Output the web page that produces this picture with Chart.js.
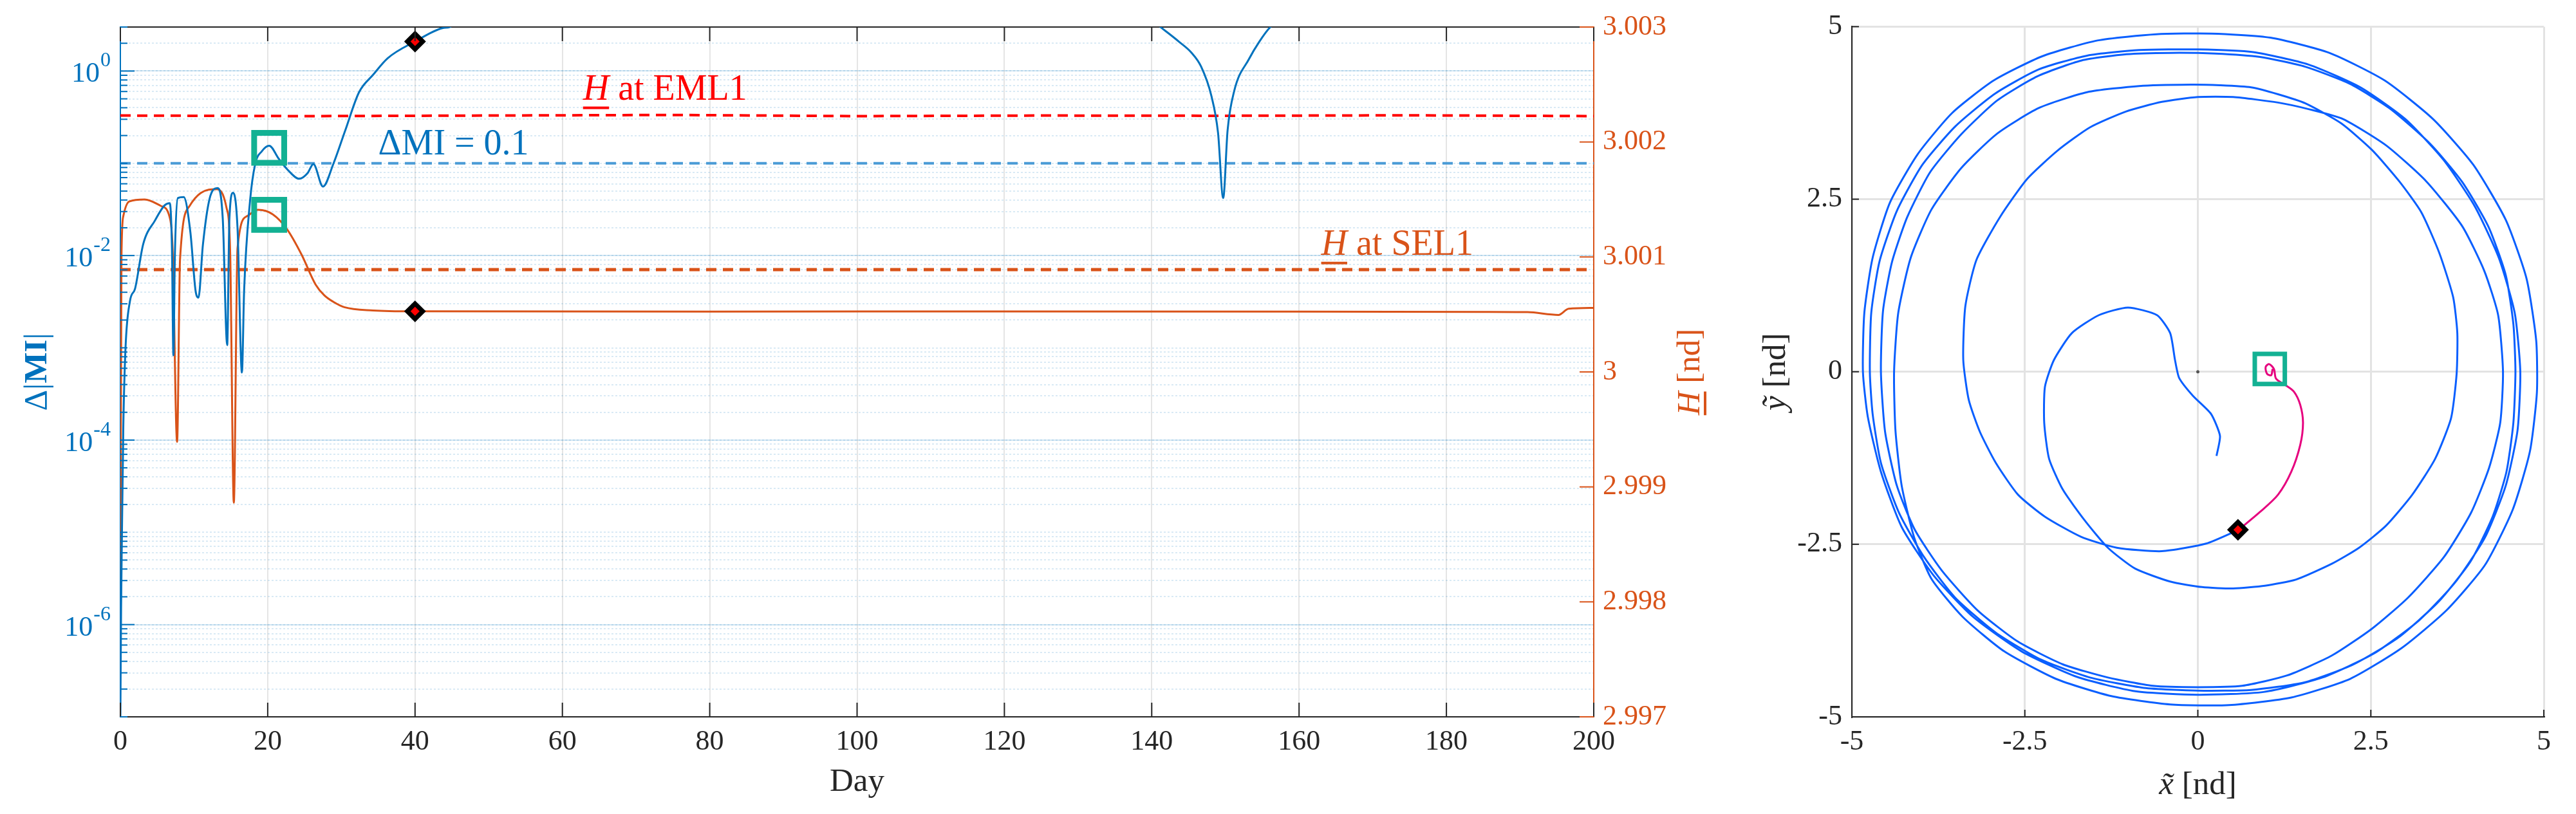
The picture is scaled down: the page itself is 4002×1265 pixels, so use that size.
<!DOCTYPE html>
<html>
<head>
<meta charset="utf-8">
<script src="https://cdn.jsdelivr.net/npm/chart.js@4.4.1/dist/chart.umd.min.js"></script>
<style>
  html, body { margin: 0; padding: 0; background: #fff; }
  #wrap { position: relative; width: 4002px; height: 1265px; }
  canvas { position: absolute; top: 0; }
  #left { left: 0; }
  #right { left: 2700px; }
</style>
</head>
<body>
<div id="wrap">
  <canvas id="left" width="2700" height="1265"></canvas>
  <canvas id="right" width="1302" height="1265"></canvas>
</div>
<script>
const SERIF = "'Liberation Serif', 'Times New Roman', serif";
const BLUE = '#0072BD', ORANGE = '#D95319', DARK = '#262626', TEAL = '#13B193';
const TRAJ = '#0a5fff', MAG = '#e6007e';

// ---------- left panel: ΔMI and H over time ----------
const dayTicks = [0, 20, 40, 60, 80, 100, 120, 140, 160, 180, 200];
const hTicks = [2.997, 2.998, 2.999, 3, 3.001, 3.002, 3.003];
const hLabels = ['2.997', '2.998', '2.999', '3', '3.001', '3.002', '3.003'];
const miLabelExp = [0, -2, -4, -6];

const miDays = [0, 0.1, 0.2, 0.4, 0.7, 1.3, 2.0, 3.1, 4.7, 6.0, 6.7, 7.0, 7.2, 7.4, 7.8, 8.6, 9.5, 10.2, 10.6, 11.2,
  12.1, 13.2, 13.9, 14.5, 14.8, 15.3, 15.9, 16.5, 16.8, 17.6, 18.3, 19.2, 20.2, 21.5, 22.6, 24.3, 25.4, 26.2, 27.5,
  28.9, 30.5, 32.4, 34.3, 36.3, 40, 43.7, 44.7, 46, 100, 140, 141.2, 143.7, 145.4, 146.7, 148.1, 149.0, 149.7,
  150.3, 151.2, 153.2, 154.6, 156.1, 157.5];
const miVals = [1e-7, 1.5e-6, 8e-6, 1.4e-4, 1e-3, 3.2e-3, 4.4e-3, 1.33e-2, 2.4e-2, 3.5e-2, 3.7e-2, 1.2e-2, 8.3e-4,
  1e-2, 4.2e-2, 4.3e-2, 1.8e-2, 4.2e-3, 3.5e-3, 1.3e-2, 4.1e-2, 5.4e-2, 2.5e-2, 1.07e-3, 2.5e-2, 4.8e-2, 2e-2,
  5.4e-4, 4.2e-3, 3.9e-2, 9.8e-2, 0.135, 0.155, 0.112, 0.087, 0.068, 0.078, 0.098, 0.056, 0.098, 0.224, 0.59,
  0.91, 1.38, 2.09, 2.92, 3.0, 3.6, null, 3.6, 3.0, 2.08, 1.58, 1.12, 0.537, 0.214, 0.042, 0.229, 0.61, 1.35,
  2.08, 3.0, 3.6];

const hDays = [0, 0.15, 0.4, 1.2, 3.3, 5.5, 6.65, 7.1, 7.7, 8.1, 9.4, 10.9, 13.1, 14.4, 14.9, 15.4, 15.9, 17.2,
  18.7, 20.7, 22.6, 24.6, 26.5, 27.7, 28.9, 30.4, 34.3, 40, 80, 120, 160, 185, 191, 195.2, 196.6, 200];
const hVals = [2.99798, 3.0010, 3.001355, 3.001483, 3.0015, 3.001444, 3.001355, 3.00105, 2.999392, 3.00098,
  3.001444, 3.001556, 3.00159, 3.00143, 3.00105, 2.998862, 3.001076, 3.001355, 3.00141, 3.00137, 3.001243,
  3.00102, 3.00076, 3.000665, 3.00061, 3.000563, 3.000535, 3.000527, 3.000525, 3.000526, 3.000525, 3.000522,
  3.00052, 3.000496, 3.00055, 3.000557];

const emlDays = [0, 25, 50, 75, 100, 125, 150, 175, 200];
const emlVals = [3.00223, 3.002225, 3.00223, 3.002235, 3.002225, 3.00223, 3.002228, 3.002232, 3.002225];
const selVal = 3.00089;
const miLimit = 0.1;

const markDay = 40, markMI = 2.09, markH = 3.000527;
const boxDay = 20.2, boxMI = 0.147, boxH = 3.001366;

// text anchors (day, value on its axis)
const emlLabelAt = [62.8, 3.00237];
const selLabelAt = [163.0, 3.00102];
const miLabelAt = [35.0, 0.125];

// log grid: 1..9 x 10^k
const miGrid = [];
for (let e = -7; e <= 0; e++) {
  for (let m = 1; m <= 9; m++) {
    const v = m * Math.pow(10, e);
    if (v <= 3.0001) miGrid.push(v);
  }
}

const pts = (xs, ys) => xs.map((x, i) => ({ x: x, y: ys[i] }));

function drawPieces(ctx, pieces, x0, y0, color, underline) {
  // pieces: [text, font]; drawn left to right from x0
  let x = x0;
  const widths = [];
  ctx.fillStyle = color;
  pieces.forEach(([t, f]) => {
    ctx.font = f;
    const w = ctx.measureText(t).width;
    ctx.fillText(t, x, y0);
    widths.push([x, w]);
    x += w;
  });
  if (underline) {
    const [ux, uw] = widths[0];
    ctx.fillRect(ux, y0 + underline, uw, 4);
  }
  return x - x0;
}

const leftDecor = {
  id: 'leftDecor',
  afterDraw(chart) {
    const { ctx, chartArea: a, scales } = chart;
    const x = scales.x, y = scales.y, yR = scales.yR;
    const seg = (x1, y1, x2, y2) => { ctx.beginPath(); ctx.moveTo(x1, y1); ctx.lineTo(x2, y2); ctx.stroke(); };
    ctx.save();

    // inward tick marks
    ctx.lineWidth = 2;
    ctx.strokeStyle = DARK;
    dayTicks.forEach(d => {
      const p = x.getPixelForValue(d);
      seg(p, a.bottom, p, a.bottom - 22);
      seg(p, a.top, p, a.top + 22);
    });
    ctx.strokeStyle = BLUE;
    miGrid.forEach(v => {
      const p = y.getPixelForValue(v);
      const major = miLabelExp.some(e => Math.abs(Math.log10(v) - e) < 1e-6);
      seg(a.left, p, a.left + (major ? 22 : 11), p);
    });
    ctx.strokeStyle = ORANGE;
    hTicks.forEach(v => {
      const p = yR.getPixelForValue(v);
      seg(a.right, p, a.right - 22, p);
    });

    // 10^k labels
    ctx.fillStyle = BLUE;
    ctx.textAlign = 'right';
    ctx.textBaseline = 'alphabetic';
    miLabelExp.forEach(e => {
      const p = y.getPixelForValue(Math.pow(10, e));
      const right = a.left - 15;
      ctx.font = '32px ' + SERIF;
      const sup = String(e);
      const w = ctx.measureText(sup).width;
      ctx.fillText(sup, right, p - 7);
      ctx.font = '44px ' + SERIF;
      ctx.fillText('10', right - w - 1, p + 17);
    });

    // line labels
    ctx.textAlign = 'left';
    const it = 'italic 56px ' + SERIF, rm = '56px ' + SERIF;
    drawPieces(ctx, [['H', it], [' at EML1', rm]],
      x.getPixelForValue(emlLabelAt[0]), yR.getPixelForValue(emlLabelAt[1]), '#ff0000', 11);
    drawPieces(ctx, [['H', it], [' at SEL1', rm]],
      x.getPixelForValue(selLabelAt[0]), yR.getPixelForValue(selLabelAt[1]), ORANGE, 11);
    drawPieces(ctx, [['\u0394MI = 0.1', rm]],
      x.getPixelForValue(miLabelAt[0]), y.getPixelForValue(miLabelAt[1]), BLUE, 0);

    // axis titles (rotated, bottom to top)
    const mid = (a.top + a.bottom) / 2;
    const leftParts = [['\u0394|', '51px ' + SERIF], ['MI', 'bold 51px ' + SERIF], ['|', '51px ' + SERIF]];
    ctx.save();
    ctx.translate(72, mid);
    ctx.rotate(-Math.PI / 2);
    let tw = 0;
    leftParts.forEach(([t, f]) => { ctx.font = f; tw += ctx.measureText(t).width; });
    drawPieces(ctx, leftParts, -tw / 2, 0, BLUE, 0);
    ctx.restore();

    const rightParts = [['H', 'italic 51px ' + SERIF], [' [nd]', '51px ' + SERIF]];
    ctx.save();
    ctx.translate(a.right + 164, mid);
    ctx.rotate(-Math.PI / 2);
    tw = 0;
    rightParts.forEach(([t, f]) => { ctx.font = f; tw += ctx.measureText(t).width; });
    drawPieces(ctx, rightParts, -tw / 2, 0, ORANGE, 7);
    ctx.restore();

    ctx.restore();
  }
};

new Chart(document.getElementById('left'), {
  type: 'line',
  data: {
    datasets: [
      { data: [{ x: boxDay, y: boxMI }], yAxisID: 'y', xAxisID: 'x', showLine: false, pointStyle: 'rect',
        pointRadius: 33, backgroundColor: 'rgba(0,0,0,0)', borderColor: TEAL, borderWidth: 9 },
      { data: [{ x: boxDay, y: boxH }], yAxisID: 'yR', xAxisID: 'x', showLine: false, pointStyle: 'rect',
        pointRadius: 33, backgroundColor: 'rgba(0,0,0,0)', borderColor: TEAL, borderWidth: 9 },
      { data: [{ x: markDay, y: markMI }], yAxisID: 'y', xAxisID: 'x', showLine: false, pointStyle: 'rectRot',
        pointRadius: 12, backgroundColor: '#ff0000', borderColor: '#000', borderWidth: 7 },
      { data: [{ x: markDay, y: markH }], yAxisID: 'yR', xAxisID: 'x', showLine: false, pointStyle: 'rectRot',
        pointRadius: 12, backgroundColor: '#ff0000', borderColor: '#000', borderWidth: 7 },
      { data: pts(miDays, miVals), yAxisID: 'y', xAxisID: 'x', borderColor: BLUE, borderWidth: 3,
        pointRadius: 0, cubicInterpolationMode: 'monotone', spanGaps: false },
      { data: pts(hDays, hVals), yAxisID: 'yR', xAxisID: 'x', borderColor: ORANGE, borderWidth: 3,
        pointRadius: 0, cubicInterpolationMode: 'monotone' },
      { data: pts(emlDays, emlVals), yAxisID: 'yR', xAxisID: 'x', borderColor: '#ff0000', borderWidth: 4,
        borderDash: [16, 10], pointRadius: 0 },
      { data: [{ x: 0, y: selVal }, { x: 200, y: selVal }], yAxisID: 'yR', xAxisID: 'x', borderColor: ORANGE,
        borderWidth: 5, borderDash: [16, 10], pointRadius: 0 },
      { data: [{ x: 0, y: miLimit }, { x: 200, y: miLimit }], yAxisID: 'y', xAxisID: 'x', borderColor: '#4a9bd6',
        borderWidth: 4, borderDash: [16, 10], pointRadius: 0 }
    ]
  },
  options: {
    responsive: false,
    animation: false,
    devicePixelRatio: 1,
    events: [],
    layout: { padding: { top: 38, left: 0, right: 0, bottom: 0 } },
    plugins: { legend: { display: false }, tooltip: { enabled: false } },
    scales: {
      x: {
        type: 'linear', position: 'bottom', min: 0, max: 200,
        afterBuildTicks: s => { s.ticks = dayTicks.map(v => ({ value: v })); },
        afterFit: s => { s.height = 151; },
        grid: { color: 'rgba(38,38,38,0.12)', lineWidth: 2, drawTicks: false },
        border: { color: DARK, width: 2 },
        ticks: { color: DARK, font: { family: SERIF, size: 44 }, padding: 13, maxRotation: 0, autoSkip: false },
        title: { display: true, text: 'Day', color: DARK, font: { family: SERIF, size: 51 },
          padding: { top: 0, bottom: 19 } }
      },
      xTop: {
        type: 'linear', position: 'top', min: 0, max: 200,
        afterFit: s => { s.height = 0; },
        grid: { display: false, drawTicks: false },
        ticks: { display: false },
        border: { color: DARK, width: 2 }
      },
      y: {
        type: 'logarithmic', position: 'left', min: 1e-7, max: 3,
        afterBuildTicks: s => { s.ticks = miGrid.map(v => ({ value: v })); },
        afterFit: s => { s.width = 187; },
        ticks: { display: false },
        grid: { color: 'rgba(0,114,189,0.15)', lineWidth: 2, drawTicks: false },
        border: { color: BLUE, width: 2, dash: [3, 3] }
      },
      yMaj: {
        type: 'logarithmic', position: 'left', min: 1e-7, max: 3,
        afterBuildTicks: s => { s.ticks = miLabelExp.map(e => ({ value: Math.pow(10, e) })); },
        afterFit: s => { s.width = 0; },
        ticks: { display: false },
        grid: { color: 'rgba(0,114,189,0.18)', lineWidth: 2, drawTicks: false },
        border: { display: false }
      },
      yR: {
        type: 'linear', position: 'right', min: 2.997, max: 3.003,
        afterBuildTicks: s => { s.ticks = hTicks.map(v => ({ value: v })); },
        afterFit: s => { s.width = 224; },
        grid: { display: false, drawTicks: false },
        border: { color: ORANGE, width: 2 },
        ticks: { color: ORANGE, font: { family: SERIF, size: 44 }, padding: 14, callback: (v, i) => hLabels[i] }
      }
    }
  },
  plugins: [leftDecor]
});

// ---------- right panel: trajectory in the rotating frame ----------
const xyTicks = [-5, -2.5, 0, 2.5, 5];
const xyLabels = ['-5', '-2.5', '0', '2.5', '5'];

const trajXY = [
  [0.59,-2.29],[0.12,-2.49],[-0.52,-2.60],[-1.17,-2.55],[-1.69,-2.39],[-2.21,-2.10],[-2.60,-1.78],[-2.92,-1.32],
  [-3.15,-0.87],[-3.31,-0.41],[-3.39,0.17],[-3.36,0.95],[-3.20,1.62],[-2.86,2.24],[-2.47,2.79],[-2.02,3.21],
  [-1.56,3.54],[-1.04,3.77],[-0.52,3.91],[0.00,3.98],[0.51,3.98],[1.16,3.90],[1.62,3.80],[2.10,3.66],[2.72,3.28],
  [3.30,2.76],[3.82,2.11],[4.14,1.46],[4.34,0.82],[4.41,0.00],[4.37,-0.74],[4.21,-1.39],[3.95,-2.04],[3.56,-2.68],
  [3.04,-3.27],[2.52,-3.72],[1.94,-4.11],[1.29,-4.40],[0.64,-4.55],[0.00,-4.57],[-0.65,-4.55],[-1.30,-4.43],
  [-1.95,-4.24],[-2.60,-3.91],[-3.18,-3.46],[-3.70,-2.88],[-4.09,-2.29],[-4.35,-1.65],[-4.52,-0.87],[-4.58,0.00],
  [-4.55,0.88],[-4.42,1.59],[-4.20,2.24],[-3.87,2.89],[-3.42,3.44],[-2.90,3.93],[-2.32,4.28],[-1.68,4.51],
  [-1.03,4.60],[-0.40,4.62],[0.25,4.61],[0.90,4.56],[1.55,4.42],[2.20,4.17],[2.78,3.81],[3.36,3.30],[3.82,2.75],
  [4.20,2.10],[4.45,1.40],[4.56,0.69],[4.59,0.00],[4.56,-0.74],[4.46,-1.45],[4.26,-2.10],[3.94,-2.75],[3.48,-3.33],
  [2.90,-3.85],[2.25,-4.24],[1.54,-4.50],[0.77,-4.61],[0.00,-4.62],[-0.78,-4.58],[-1.56,-4.43],[-2.27,-4.17],
  [-2.92,-3.78],[-3.51,-3.27],[-3.96,-2.68],[-4.32,-2.04],[-4.58,-1.32],[-4.70,-0.61],[-4.74,0.00],
  [-4.72,0.85],[-4.60,1.60],[-4.35,2.33],[-3.98,3.00],[-3.50,3.56],[-2.93,4.03],[-2.30,4.38],[-1.60,4.58],
  [-0.85,4.66],[0.00,4.67],[0.80,4.63],[1.60,4.45],[2.35,4.12],[3.00,3.66],[3.55,3.07],[4.00,2.40],[4.35,1.65],
  [4.58,0.85],[4.66,0.00],[4.62,-0.85],[4.45,-1.65],[4.15,-2.40],[3.72,-3.05],[3.20,-3.60],[2.55,-4.08],
  [1.80,-4.43],[0.95,-4.64],[0.00,-4.68],[-0.90,-4.63],[-1.75,-4.42],[-2.55,-4.05],[-3.25,-3.55],[-3.82,-2.95],
  [-4.28,-2.25],[-4.58,-1.45],[-4.77,-0.65],[-4.84,0.00],
  [-4.82,0.85],[-4.70,1.65],[-4.45,2.45],[-4.05,3.15],[-3.55,3.75],[-2.95,4.22],[-2.25,4.57],[-1.45,4.80],
  [-0.60,4.89],[0.20,4.90],[1.05,4.84],[1.90,4.62],[2.70,4.22],[3.40,3.66],[3.98,3.00],[4.45,2.20],[4.75,1.35],
  [4.89,0.45],[4.90,-0.30],[4.80,-1.15],[4.55,-2.00],[4.15,-2.80],[3.60,-3.45],[2.95,-4.00],[2.20,-4.45],
  [1.35,-4.72],[0.45,-4.83],[-0.40,-4.82],[-1.25,-4.70],[-2.05,-4.45],[-2.80,-4.05],[-3.40,-3.55],[-3.85,-3.00],
  [-4.10,-2.40],[-4.28,-1.65],[-4.37,-0.85],[-4.39,0.00],[-4.33,0.85],[-4.15,1.65],[-3.85,2.35],[-3.42,2.95],
  [-2.90,3.45],[-2.30,3.82],[-1.60,4.05],[-0.85,4.14],[-0.10,4.16],[0.32,4.15],[0.77,4.12],[1.16,4.02],
  [1.55,3.89],[2.07,3.60],[2.52,3.21],[2.91,2.76],[3.23,2.31],[3.49,1.72],[3.69,1.08],[3.75,0.56],[3.74,-0.03],
  [3.66,-0.67],[3.43,-1.26],[3.10,-1.78],[2.72,-2.23],[2.33,-2.55],[1.94,-2.78],[1.42,-3.01],[0.97,-3.10],
  [0.51,-3.14],[0.06,-3.12],[-0.40,-3.04],[-0.91,-2.85],[-1.30,-2.55],[-1.63,-2.16],[-1.95,-1.71],[-2.15,-1.26],
  [-2.22,-0.74],[-2.21,-0.22],[-2.08,0.17],[-1.82,0.56],[-1.43,0.82],[-1.01,0.93],[-0.59,0.82],[-0.40,0.56],
  [-0.33,0.17],[-0.27,-0.09],[-0.07,-0.35],[0.19,-0.61],[0.32,-0.93],[0.27,-1.22]
];
const magXY = [
  [0.59,-2.29],[0.90,-2.03],[1.16,-1.78],[1.35,-1.45],[1.48,-1.06],[1.52,-0.74],[1.48,-0.48],[1.39,-0.29],
  [1.26,-0.19],[1.13,-0.10],[1.10,0.04],[1.03,0.11],[0.98,0.07],[1.00,-0.03],[1.06,-0.05],[1.08,0.04]
];
const originXY = [0, 0];
const markXY = [0.58, -2.29];
const boxXY = [1.04, 0.04];

const xy = arr => arr.map(p => ({ x: p[0], y: p[1] }));

const rightDecor = {
  id: 'rightDecor',
  afterDraw(chart) {
    const { ctx, chartArea: a, scales: { x, y } } = chart;
    const seg = (x1, y1, x2, y2) => { ctx.beginPath(); ctx.moveTo(x1, y1); ctx.lineTo(x2, y2); ctx.stroke(); };
    ctx.save();
    ctx.strokeStyle = DARK;
    ctx.lineWidth = 2;
    xyTicks.forEach(v => {
      const px = x.getPixelForValue(v);
      seg(px, a.bottom, px, a.bottom - 11);
      const py = y.getPixelForValue(v);
      seg(a.left, py, a.left + 11, py);
    });
    ctx.textAlign = 'left';
    ctx.textBaseline = 'alphabetic';
    const parts = [['x\u0303', 'italic 51px ' + SERIF], [' [nd]', '51px ' + SERIF]];
    let tw = 0;
    parts.forEach(([t, f]) => { ctx.font = f; tw += ctx.measureText(t).width; });
    drawPieces(ctx, parts, (a.left + a.right) / 2 - tw / 2, 1234, DARK, 0);

    const yparts = [['y\u0303', 'italic 51px ' + SERIF], [' [nd]', '51px ' + SERIF]];
    ctx.save();
    ctx.translate(73, (a.top + a.bottom) / 2);
    ctx.rotate(-Math.PI / 2);
    tw = 0;
    yparts.forEach(([t, f]) => { ctx.font = f; tw += ctx.measureText(t).width; });
    drawPieces(ctx, yparts, -tw / 2, 0, DARK, 0);
    ctx.restore();
    ctx.restore();
  }
};

const xyAxis = (isX) => ({
  type: 'linear', min: -5, max: 5,
  afterBuildTicks: s => { s.ticks = xyTicks.map(v => ({ value: v })); },
  afterFit: s => { if (isX) s.height = 151; else s.width = 177; },
  grid: { color: '#e3e3e3', lineWidth: 3, drawTicks: false },
  border: { color: DARK, width: 2 },
  ticks: { color: DARK, font: { family: SERIF, size: 44 }, padding: isX ? 13 : 15, maxRotation: 0,
    autoSkip: false, callback: (v, i) => xyLabels[i] }
});

new Chart(document.getElementById('right'), {
  type: 'scatter',
  data: {
    datasets: [
      { data: xy([boxXY]), pointStyle: 'rect', pointRadius: 33, backgroundColor: 'rgba(0,0,0,0)',
        borderColor: TEAL, borderWidth: 7 },
      { data: xy([markXY]), pointStyle: 'rectRot', pointRadius: 12, backgroundColor: '#ff0000',
        borderColor: '#000', borderWidth: 7 },
      { data: xy(magXY), showLine: true, borderColor: MAG, borderWidth: 3, pointRadius: 0, tension: 0.3 },
      { data: xy(trajXY), showLine: true, borderColor: TRAJ, borderWidth: 3, pointRadius: 0, tension: 0.2 },
      { data: xy([originXY]), pointRadius: 2.5, backgroundColor: '#555', borderWidth: 0 }
    ]
  },
  options: {
    responsive: false,
    animation: false,
    devicePixelRatio: 1,
    events: [],
    layout: { padding: { top: 38, right: 50, left: 0, bottom: 0 } },
    plugins: { legend: { display: false }, tooltip: { enabled: false } },
    scales: { x: xyAxis(true), y: xyAxis(false) }
  },
  plugins: [rightDecor]
});
</script>
</body>
</html>
